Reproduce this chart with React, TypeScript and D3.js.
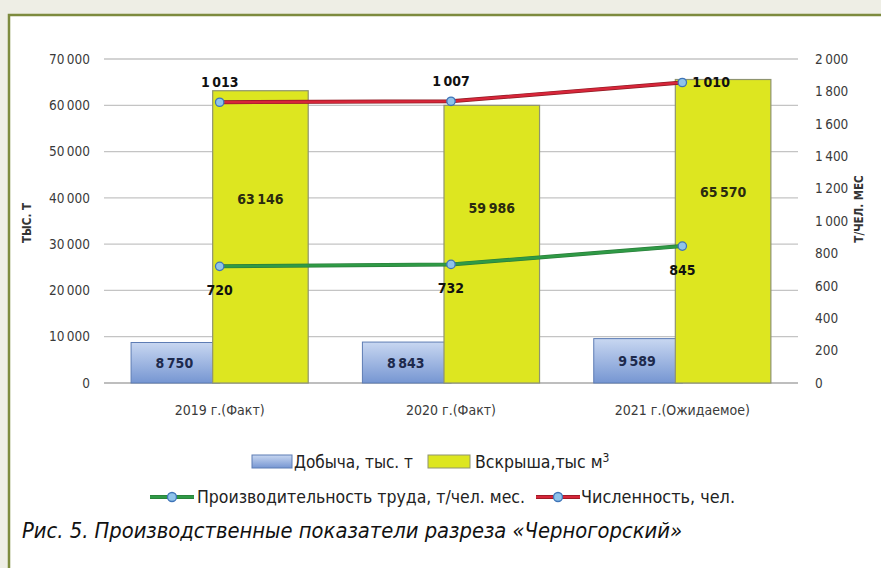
import { useEffect, useRef } from 'react';
import * as d3 from 'd3';

const categories = ['2019 г.(Факт)', '2020 г.(Факт)', '2021 г.(Ожидаемое)'];
const dobycha = [8750, 8843, 9589];
const vskrysha = [63146, 59986, 65570];
const proizv = [720, 732, 845];
const chislen = [1013, 1007, 1010];
const leftTicks = [0, 10000, 20000, 30000, 40000, 50000, 60000, 70000];
const rightTicks = [0, 200, 400, 600, 800, 1000, 1200, 1400, 1600, 1800, 2000];

const NARROW = "'DejaVu Sans Condensed', 'Liberation Sans Narrow', sans-serif";

const fmt = (v: number) => d3.format(',')(v).replace(/,/g, '\u2009');

const App = () => {
    const svgRef = useRef<SVGSVGElement>(null);

    useEffect(() => {
        const width = 881;
        const height = 568;
        const plot = { left: 104, right: 798, top: 59, bottom: 383 };

        const svg = d3.select(svgRef.current);
        svg.selectAll('*').remove();
        svg.attr('width', width).attr('height', height);

        // page background and olive frame
        svg.append('rect').attr('width', width).attr('height', height).attr('fill', '#eeeee5');
        svg.append('rect')
            .attr('x', 9).attr('y', 15).attr('width', width + 20).attr('height', height + 20)
            .attr('fill', '#ffffff').attr('stroke', '#7d8b3e').attr('stroke-width', 2.5);

        const defs = svg.append('defs');
        const grad = defs.append('linearGradient').attr('id', 'blueGrad')
            .attr('x1', 0).attr('y1', 0).attr('x2', 0).attr('y2', 1);
        grad.append('stop').attr('offset', '0%').attr('stop-color', '#c8d7f1');
        grad.append('stop').attr('offset', '100%').attr('stop-color', '#7696d2');

        const x = d3.scaleBand().domain(categories).range([plot.left, plot.right]).paddingInner(0).paddingOuter(0);
        const yL = d3.scaleLinear().domain([0, 70000]).range([plot.bottom, plot.top]);
        const yR = d3.scaleLinear().domain([0, 2000]).range([plot.bottom, plot.top]);
        const bw = x.bandwidth();
        const cx = (c: string) => (x(c) as number) + bw / 2;

        // gridlines
        svg.append('g').selectAll('line').data(leftTicks).join('line')
            .attr('x1', plot.left).attr('x2', plot.right)
            .attr('y1', d => yL(d)).attr('y2', d => yL(d))
            .attr('stroke', d => d === 0 ? '#a8a8a8' : '#c4c4c4').attr('stroke-width', 1.3);

        // left axis labels
        svg.append('g').selectAll('text').data(leftTicks).join('text')
            .attr('x', 90).attr('y', d => yL(d)).attr('dy', '0.35em')
            .attr('text-anchor', 'end').attr('font-family', NARROW).attr('font-size', 13.5)
            .attr('fill', '#3a3a3a').text(d => fmt(d));

        // right axis labels
        svg.append('g').selectAll('text').data(rightTicks).join('text')
            .attr('x', 815).attr('y', d => yR(d)).attr('dy', '0.35em')
            .attr('text-anchor', 'start').attr('font-family', NARROW).attr('font-size', 13.5)
            .attr('fill', '#3a3a3a').text(d => fmt(d));

        // axis titles
        svg.append('text')
            .attr('transform', `translate(31, ${(plot.top + plot.bottom) / 2 + 2}) rotate(-90)`)
            .attr('text-anchor', 'middle').attr('font-family', NARROW).attr('font-size', 11.5)
            .attr('font-weight', 'bold').attr('fill', '#333').text('ТЫС. Т');
        svg.append('text')
            .attr('transform', `translate(863, ${(plot.top + plot.bottom) / 2 - 12}) rotate(-90)`)
            .attr('text-anchor', 'middle').attr('font-family', NARROW).attr('font-size', 11.5)
            .attr('font-weight', 'bold').attr('fill', '#333').text('Т/ЧЕЛ. МЕС');

        // bars: blue left of centre, yellow right of centre
        const blueW = bw * 0.357;
        const yelW = bw * 0.413;
        const bars = svg.append('g');
        bars.selectAll('rect.blue').data(categories).join('rect')
            .attr('class', 'blue')
            .attr('x', d => cx(d) - blueW - 6)
            .attr('y', (d, i) => yL(dobycha[i]))
            .attr('width', blueW + 6)
            .attr('height', (d, i) => plot.bottom - yL(dobycha[i]))
            .attr('fill', 'url(#blueGrad)').attr('stroke', '#5d7cb4').attr('stroke-width', 1);
        bars.selectAll('rect.yel').data(categories).join('rect')
            .attr('class', 'yel')
            .attr('x', d => cx(d) - 7)
            .attr('y', (d, i) => yL(vskrysha[i]))
            .attr('width', yelW)
            .attr('height', (d, i) => plot.bottom - yL(vskrysha[i]))
            .attr('fill', '#dde620').attr('stroke', '#8f9470').attr('stroke-width', 1.2);

        const lbl = (sel: any) => sel.attr('font-family', NARROW).attr('font-size', 14)
            .attr('font-weight', 'bold').attr('text-anchor', 'middle');

        svg.append('g').selectAll('text').data(categories).join('text')
            .attr('x', d => cx(d) - blueW / 2 - 4)
            .attr('y', (d, i) => (yL(dobycha[i]) + plot.bottom) / 2).attr('dy', '0.36em')
            .attr('fill', '#1d2a4d').call(lbl).text((d, i) => fmt(dobycha[i]));
        svg.append('g').selectAll('text').data(categories).join('text')
            .attr('x', d => cx(d) - 7 + yelW / 2)
            .attr('y', (d, i) => yL(vskrysha[i] * 0.63)).attr('dy', '0.36em')
            .attr('fill', '#2a2a10').call(lbl).text((d, i) => fmt(vskrysha[i]));

        // lines (stacked: Численность is drawn on top of Производительность)
        const stacked = chislen.map((v, i) => v + proizv[i]);
        const line = d3.line<number>().x((d, i) => cx(categories[i])).y(d => yR(d));

        const drawLine = (vals: number[], color: string, dark: string) => {
            svg.append('path').attr('d', line(vals)).attr('fill', 'none')
                .attr('stroke', dark).attr('stroke-width', 4).attr('stroke-linejoin', 'round');
            svg.append('path').attr('d', line(vals)).attr('fill', 'none')
                .attr('stroke', color).attr('stroke-width', 2.6).attr('stroke-linejoin', 'round');
            svg.append('g').selectAll('circle').data(vals).join('circle')
                .attr('cx', (d, i) => cx(categories[i])).attr('cy', d => yR(d)).attr('r', 4.2)
                .attr('fill', '#8fc3ea').attr('stroke', '#3f74b8').attr('stroke-width', 1.3);
        };
        drawLine(proizv, '#2f9a46', '#2a7d3a');
        drawLine(stacked, '#d7263a', '#8e1a22');

        const ptLbl = (sel: any) => sel.attr('font-family', NARROW).attr('font-size', 14)
            .attr('font-weight', 'bold').attr('fill', '#111');
        svg.append('g').selectAll('text').data(proizv).join('text')
            .attr('x', (d, i) => cx(categories[i]))
            .attr('y', d => yR(d) + 29).attr('text-anchor', 'middle')
            .call(ptLbl).text(d => fmt(d));
        svg.append('g').selectAll('text').data(stacked).join('text')
            .attr('x', (d, i) => cx(categories[i]) + (i === 2 ? 10 : 0))
            .attr('y', (d, i) => yR(d) + (i === 2 ? 5 : -15))
            .attr('text-anchor', (d, i) => i === 2 ? 'start' : 'middle')
            .call(ptLbl).text((d, i) => fmt(chislen[i]));

        // category labels
        svg.append('g').selectAll('text').data(categories).join('text')
            .attr('x', d => cx(d)).attr('y', 415).attr('text-anchor', 'middle')
            .attr('font-family', NARROW).attr('font-size', 14).attr('fill', '#3a3a3a').text(d => d);

        // legend row 1
        const leg1 = svg.append('g');
        leg1.append('rect').attr('x', 252).attr('y', 455).attr('width', 40).attr('height', 13)
            .attr('fill', 'url(#blueGrad)').attr('stroke', '#5d7cb4');
        leg1.append('text').attr('x', 294).attr('y', 468).attr('font-family', NARROW).attr('font-size', 17.5)
            .attr('textLength', 119).attr('lengthAdjust', 'spacingAndGlyphs')
            .attr('fill', '#222').text('Добыча, тыс. т');
        leg1.append('rect').attr('x', 428).attr('y', 455).attr('width', 42).attr('height', 13)
            .attr('fill', '#dde620').attr('stroke', '#8f9470');
        const t2 = leg1.append('text').attr('x', 475).attr('y', 468).attr('font-family', NARROW)
            .attr('font-size', 17.5).attr('fill', '#222');
        t2.append('tspan').text('Вскрыша,тыс м');
        t2.append('tspan').attr('dy', -6).attr('font-size', 12).text('3');

        // legend row 2
        const leg2 = svg.append('g');
        const legLine = (x0: number, color: string, dark: string) => {
            leg2.append('line').attr('x1', x0).attr('x2', x0 + 44).attr('y1', 497).attr('y2', 497)
                .attr('stroke', dark).attr('stroke-width', 4);
            leg2.append('line').attr('x1', x0).attr('x2', x0 + 44).attr('y1', 497).attr('y2', 497)
                .attr('stroke', color).attr('stroke-width', 2.6);
            leg2.append('circle').attr('cx', x0 + 22).attr('cy', 497).attr('r', 4.5)
                .attr('fill', '#8fc3ea').attr('stroke', '#3f74b8').attr('stroke-width', 1.3);
        };
        legLine(150, '#2f9a46', '#2a7d3a');
        leg2.append('text').attr('x', 197).attr('y', 503).attr('font-family', NARROW).attr('font-size', 17.5)
            .attr('textLength', 328).attr('lengthAdjust', 'spacingAndGlyphs')
            .attr('fill', '#222').text('Производительность труда, т/чел. мес.');
        legLine(536, '#d7263a', '#8e1a22');
        leg2.append('text').attr('x', 581).attr('y', 503).attr('font-family', NARROW).attr('font-size', 17.5)
            .attr('textLength', 154).attr('lengthAdjust', 'spacingAndGlyphs')
            .attr('fill', '#222').text('Численность, чел.');

        // caption
        svg.append('text').attr('x', 22).attr('y', 538).attr('font-family', NARROW)
            .attr('font-size', 21).attr('font-style', 'italic').attr('fill', '#111')
            .attr('textLength', 660).attr('lengthAdjust', 'spacingAndGlyphs')
            .text('Рис. 5. Производственные показатели разреза «Черногорский»');
    }, []);

    return <svg ref={svgRef} style={{ position: 'absolute', left: 0, top: 0, display: 'block' }} />;
};

export default App;
